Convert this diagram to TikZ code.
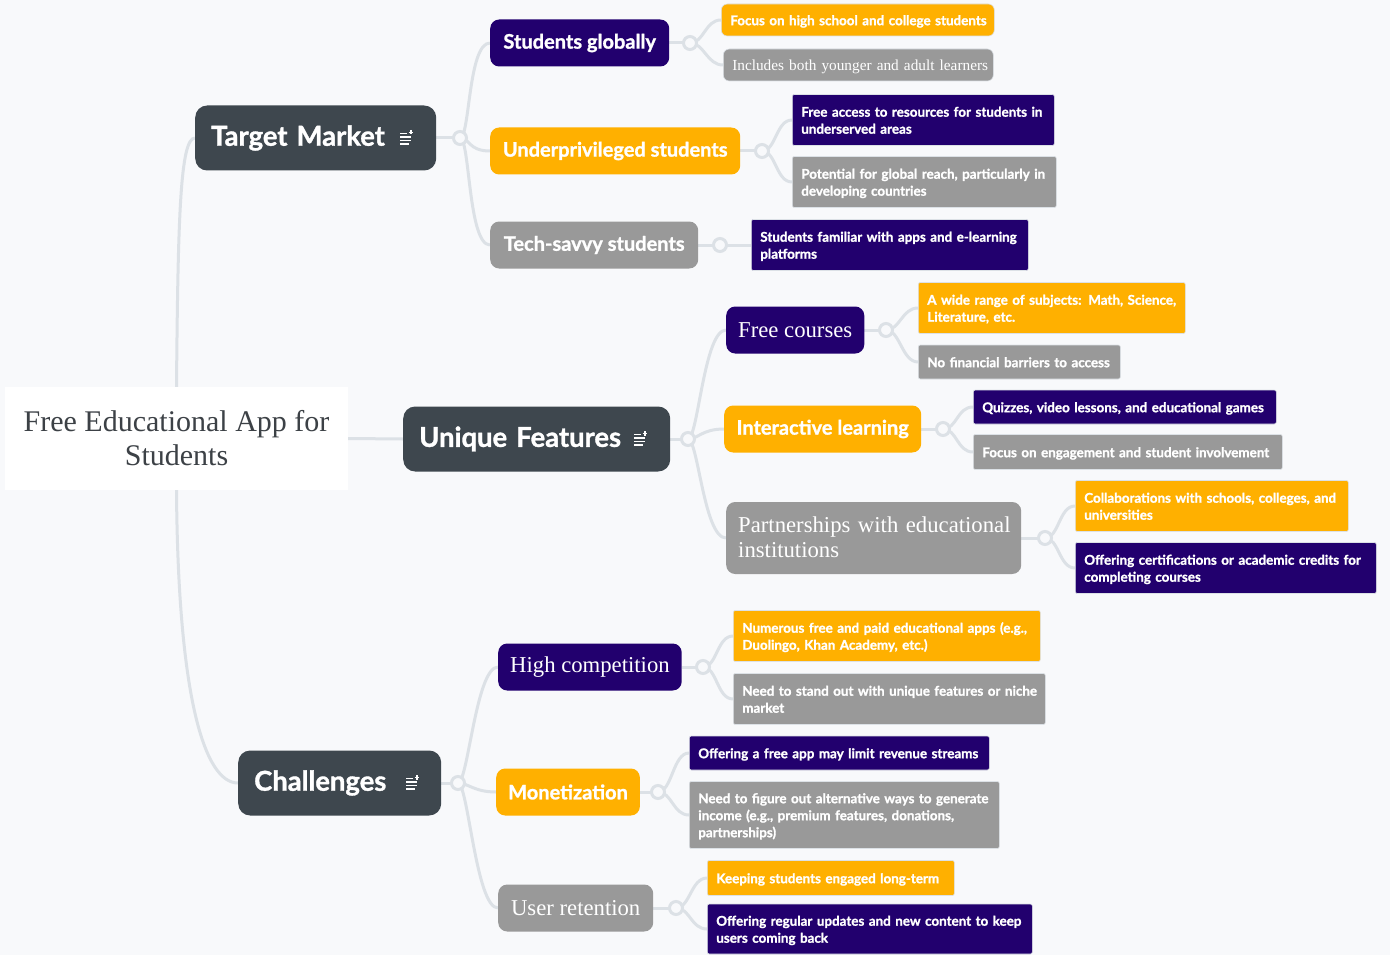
\documentclass[tikz,border=0pt]{standalone}
\usepackage{fontspec}
\setmainfont{Liberation Serif}
\newfontfamily\uisans{Lato}[BoldFeatures={FakeBold=1.2}]
\usetikzlibrary{positioning}
\pgfdeclarelayer{background}
\pgfsetlayers{background,main}
\definecolor{bgpage}{HTML}{F8F9FB}
\definecolor{wire}{HTML}{DCE1E6}
\definecolor{slate}{HTML}{3E474E}
\definecolor{indigo}{HTML}{22006E}
\definecolor{amber}{HTML}{FFB000}
\definecolor{stone}{HTML}{999999}
\definecolor{roottext}{HTML}{3C4146}
% lines kept as typed, never re-broken (and set a little lower)
\newcommand\keepl[1]{\raisebox{-1.8pt}[\height][\depth]{\begin{tabular}{@{}l@{}}#1\end{tabular}}}
\tikzset{
  wire/.style={draw=wire, line width=3pt},
  knot/.style={circle, draw=wire, line width=3pt, fill=bgpage, minimum size=13pt, inner sep=0pt},
  topic/.style={anchor=west, rounded corners=12pt, fill=slate, text=white, minimum height=65pt,
    inner xsep=16pt, align=left, font=\uisans\bfseries\fontsize{27.4}{31}\selectfont},
  sub/.style={anchor=west, rounded corners=9pt, text=white, minimum height=47pt, inner xsep=12pt},
  subsans/.style={sub, font=\uisans\bfseries\fontsize{20}{24}\selectfont},
  subserif/.style={sub, font=\fontsize{22.7}{25}\selectfont},
  leaf/.style={anchor=west, text=white, inner xsep=9pt, align=left, rounded corners=2pt,
    draw=wire, line width=0.6pt, font=\uisans\bfseries\fontsize{13.4}{17}\selectfont},
  listicon/.pic={
    \draw[white, line width=1.2pt] (-6,-4.5) -- (1,-4.5) (-6,-1) -- (5,-1) (-6,2.5) -- (5,2.5) (-6,6) -- (3,6);
    \draw[white, line width=1.2pt] (4.5,-8) -- (4.5,-3.5) (2.25,-5.75) -- (6.75,-5.75);
  }
}
\begin{document}
\begin{tikzpicture}[x=1pt,y=-1pt]
  \begin{pgfonlayer}{background}
    \fill[bgpage] (0,0) rectangle (1390,955);
  \end{pgfonlayer}
  \useasboundingbox (0,0) rectangle (1390,955);

  % central topic
  \node[fill=white, minimum width=343pt, minimum height=103pt, text=roottext, align=center,
    font=\fontsize{30}{34}\selectfont] (root) at (176.5,438.5) {Free Educational App for\\Students};

  % main branches
  \node[topic, minimum width=241pt, text width=209pt] (tm) at (195,138) {Target Market};
  \node[topic, minimum width=267pt, text width=235pt] (uf) at (403,439) {Unique Features};
  \node[topic, minimum width=203pt, text width=171pt] (ch) at (238,783) {Challenges};
  \pic at ([xshift=-30pt]tm.east) {listicon};
  \pic at ([xshift=-30pt]uf.east) {listicon};
  \pic at ([xshift=-29pt]ch.east) {listicon};

  % Target Market
  \node[subsans, fill=indigo, minimum width=179pt] (sg) at (490,43) {Students globally};
  \node[subsans, fill=amber, minimum width=250pt] (up) at (490,151) {Underprivileged students};
  \node[subsans, fill=stone, minimum width=208pt] (ts) at (490,245) {Tech-savvy students};
  \node[leaf, fill=amber, rounded corners=6pt, minimum width=273pt, minimum height=32pt, text width=255pt] (sg1) at (721,20) {\keepl{Focus on high school and college students}};
  \node[leaf, fill=stone, rounded corners=6pt, minimum width=270pt, minimum height=32pt, text width=252pt,
    font=\fontsize{15.3}{17}\selectfont] (sg2) at (723,65) {\keepl{Includes both younger and adult learners}};
  \node[leaf, fill=indigo, minimum width=262pt, minimum height=51pt, text width=244pt] (up1) at (792,120) {\keepl{Free access to resources for students in\\underserved areas}};
  \node[leaf, fill=stone, minimum width=264pt, minimum height=51pt, text width=246pt] (up2) at (792,182) {\keepl{Potential for global reach, particularly in\\developing countries}};
  \node[leaf, fill=indigo, minimum width=277pt, minimum height=51pt, text width=259pt] (ts1) at (751,245) {\keepl{Students familiar with apps and e-learning\\platforms}};

  % Unique Features
  \node[subserif, fill=indigo, minimum width=138pt] (fc) at (726,330) {Free courses};
  \node[subsans, fill=amber, minimum width=197pt] (il) at (724,429) {Interactive learning};
  \node[subserif, fill=stone, minimum width=295pt, minimum height=72pt, text width=271pt, align=left] (pe) at (726,538) {\keepl{Partnerships with educational\\institutions}};
  \node[leaf, fill=amber, minimum width=267pt, minimum height=51pt, text width=249pt] (fc1) at (918,308) {\keepl{A wide range of subjects: Math, Science,\\Literature, etc.}};
  \node[leaf, fill=stone, minimum width=202pt, minimum height=34pt, text width=184pt] (fc2) at (918,362) {\keepl{No financial barriers to access}};
  \node[leaf, fill=indigo, minimum width=303pt, minimum height=34pt, text width=285pt] (il1) at (973,407) {\keepl{Quizzes, video lessons, and educational games}};
  \node[leaf, fill=stone, minimum width=309pt, minimum height=35pt, text width=291pt] (il2) at (973,452) {\keepl{Focus on engagement and student involvement}};
  \node[leaf, fill=amber, minimum width=273pt, minimum height=51pt, text width=255pt] (pe1) at (1075,506) {\keepl{Collaborations with schools, colleges, and\\universities}};
  \node[leaf, fill=indigo, minimum width=301pt, minimum height=51pt, text width=283pt] (pe2) at (1075,568) {\keepl{Offering certifications or academic credits for\\completing courses}};

  % Challenges
  \node[subserif, fill=indigo, minimum width=182pt] (hc) at (498,667) {High competition};
  \node[subsans, fill=amber, minimum width=141pt] (mo) at (496,792) {Monetization};
  \node[subserif, fill=stone, minimum width=155pt] (ur) at (498,908) {User retention};
  \node[leaf, fill=amber, minimum width=307pt, minimum height=51pt, text width=289pt] (hc1) at (733,636) {\keepl{Numerous free and paid educational apps (e.g.,\\Duolingo, Khan Academy, etc.)}};
  \node[leaf, fill=stone, minimum width=312pt, minimum height=51pt, text width=294pt] (hc2) at (733,699) {\keepl{Need to stand out with unique features or niche\\market}};
  \node[leaf, fill=indigo, minimum width=300pt, minimum height=34pt, text width=282pt] (mo1) at (689,753) {\keepl{Offering a free app may limit revenue streams}};
  \node[leaf, fill=stone, minimum width=310pt, minimum height=67pt, text width=292pt] (mo2) at (689,815) {\keepl{Need to figure out alternative ways to generate\\income (e.g., premium features, donations,\\partnerships)}};
  \node[leaf, fill=amber, minimum width=247pt, minimum height=35pt, text width=229pt] (ur1) at (707,878) {\keepl{Keeping students engaged long-term}};
  \node[leaf, fill=indigo, minimum width=325pt, minimum height=50pt, text width=307pt] (ur2) at (707,929) {\keepl{Offering regular updates and new content to keep\\users coming back}};

  % junction knots
  \node[knot] (ktm) at (460,138) {};
  \node[knot] (kuf) at (688,439) {};
  \node[knot] (kch) at (458,783) {};
  \node[knot] (ksg) at (690,43) {};
  \node[knot] (kup) at (762,151) {};
  \node[knot] (kts) at (720,245) {};
  \node[knot] (kfc) at (886,330) {};
  \node[knot] (kil) at (943,429) {};
  \node[knot] (kpe) at (1045,538) {};
  \node[knot] (khc) at (703,667) {};
  \node[knot] (kmo) at (658,792) {};
  \node[knot] (kur) at (676,908) {};

  \begin{pgfonlayer}{background}
    \draw[wire] (root.east) -- (uf.west);
    \draw[wire] (root.north) .. controls (178,220) and (180,138) .. (tm.west);
    \draw[wire] (root.south) .. controls (178,700) and (205,783) .. (ch.west);
    \foreach \up/\kn in {tm/ktm, uf/kuf, ch/kch, sg/ksg, up/kup, ts/kts, fc/kfc, il/kil, pe/kpe, hc/khc, mo/kmo, ur/kur}
      \draw[wire] (\up.east) -- (\kn.center);
    \foreach \kn/\kid in {ktm/sg, ktm/up, ktm/ts, kuf/fc, kuf/il, kuf/pe, kch/hc, kch/mo, kch/ur}
      \draw[wire] (\kn.center) .. controls +(10,0) and +(-22,0) .. (\kid.west);
    \foreach \kn/\kid in {ksg/sg1, ksg/sg2, kup/up1, kup/up2, kts/ts1, kfc/fc1, kfc/fc2, kil/il1, kil/il2,
      kpe/pe1, kpe/pe2, khc/hc1, khc/hc2, kmo/mo1, kmo/mo2, kur/ur1, kur/ur2}
      \draw[wire] (\kn.center) .. controls +(14,0) and +(-16,0) .. (\kid.west);
  \end{pgfonlayer}
\end{tikzpicture}
\end{document}
